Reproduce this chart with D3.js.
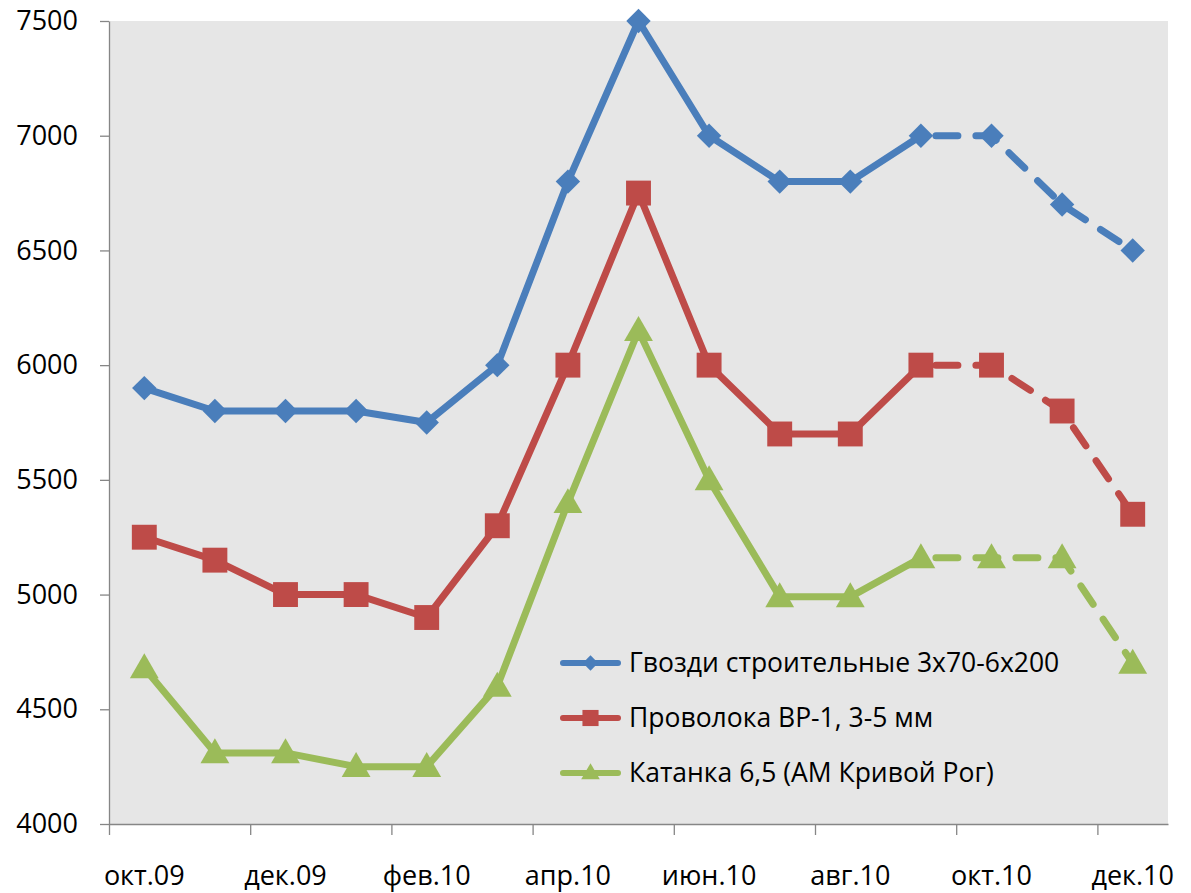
<!DOCTYPE html>
<html>
<head>
<meta charset="utf-8">
<script src="https://cdn.jsdelivr.net/npm/d3@7"></script>
<style>
  body { margin: 0; background: #fff; }
  text { font-family: "Open Sans", sans-serif; fill: #000; }
</style>
</head>
<body>
<div id="chart"></div>
<script>
// months (category axis)
const months = ['окт.09', 'ноя.09', 'дек.09', 'янв.10', 'фев.10', 'мар.10', 'апр.10',
  'май.10', 'июн.10', 'июл.10', 'авг.10', 'сен.10', 'окт.10', 'ноя.10', 'дек.10'];

// series values
const nails = [5900, 5800, 5800, 5800, 5750, 6000, 6800, 7500, 7000, 6800, 6800, 7000, 7000, 6700, 6500];
const wire = [5250, 5150, 5000, 5000, 4900, 5300, 6000, 6750, 6000, 5700, 5700, 6000, 6000, 5800, 5350];
const rod = [4680, 4310, 4310, 4250, 4250, 4600, 5400, 6150, 5500, 4990, 4990, 5160, 5160, 5160, 4700];

const seriesNames = ['Гвозди строительные 3х70-6х200', 'Проволока ВР-1, 3-5 мм', 'Катанка 6,5 (АМ Кривой Рог)'];
const yTicks = [4000, 4500, 5000, 5500, 6000, 6500, 7000, 7500];
const forecastFrom = 11; // dashed from сен.10 on

const width = 1191, height = 893;
const margin = { top: 21, right: 23, bottom: 69, left: 109 };
const plotW = width - margin.left - margin.right;
const plotH = height - margin.top - margin.bottom;

const series = [
  { name: seriesNames[0], values: nails, color: '#4a7ebb', marker: 'diamond' },
  { name: seriesNames[1], values: wire, color: '#be4b48', marker: 'square' },
  { name: seriesNames[2], values: rod, color: '#9bbb59', marker: 'triangle' }
];

const svg = d3.select('#chart')
  .append('svg')
  .attr('width', width)
  .attr('height', height);

const g = svg.append('g')
  .attr('transform', `translate(${margin.left},${margin.top})`);

// scales
const xBand = d3.scaleBand().domain(months).range([0, plotW]).paddingInner(0).paddingOuter(0);
const xIdx = d3.scaleLinear().domain([0, months.length]).range([0, plotW]);
const y = d3.scaleLinear().domain([4000, 7500]).range([plotH, 0]);
const cx = i => xBand(months[i]) + xBand.bandwidth() / 2;

// plot background
g.append('rect')
  .attr('width', plotW)
  .attr('height', plotH)
  .attr('fill', '#e6e6e6');

// y axis
const yAxis = g.append('g')
  .call(d3.axisLeft(y).tickValues(yTicks).tickFormat(d3.format('d')).tickSize(9).tickSizeOuter(0).tickPadding(22));
yAxis.selectAll('line, path').attr('stroke', '#868686').attr('stroke-width', 1.3);
yAxis.selectAll('text').style('font-size', '27px');

// x axis (ticks every 2 months at category boundaries)
const xAxis = g.append('g')
  .attr('transform', `translate(0,${plotH})`)
  .call(d3.axisBottom(xIdx).tickValues(d3.range(0, months.length, 2)).tickSize(11).tickSizeOuter(0).tickFormat(''));
xAxis.selectAll('line, path').attr('stroke', '#868686').attr('stroke-width', 1.3);

g.append('g')
  .selectAll('text')
  .data(months.filter((m, i) => i % 2 === 0))
  .enter()
    .append('text')
    .attr('x', d => xBand(d) + xBand.bandwidth() / 2)
    .attr('y', plotH + 61)
    .attr('text-anchor', 'middle')
    .style('font-size', '27px')
    .text(d => d);

// markers
const symbolFor = {
  diamond: d3.symbol().type(d3.symbolDiamond2).size(380),
  square: d3.symbol().type(d3.symbolSquare).size(620),
  triangle: d3.symbol().type(d3.symbolTriangle).size(360)
};
const legendSymbol = {
  diamond: d3.symbol().type(d3.symbolDiamond2).size(150),
  square: d3.symbol().type(d3.symbolSquare).size(260),
  triangle: d3.symbol().type(d3.symbolTriangle).size(150)
};

const line = d3.line()
  .x(d => cx(d.i))
  .y(d => y(d.v));

series.forEach(s => {
  const pts = s.values.map((v, i) => ({ i, v }));
  const sg = g.append('g').attr('class', 'series');

  sg.append('path')
    .attr('d', line(pts.slice(0, forecastFrom + 1)))
    .attr('fill', 'none')
    .attr('stroke', s.color)
    .attr('stroke-width', 7)
    .attr('stroke-linejoin', 'round');

  sg.append('path')
    .attr('d', line(pts.slice(forecastFrom)))
    .attr('fill', 'none')
    .attr('stroke', s.color)
    .attr('stroke-width', 7)
    .attr('stroke-linecap', 'round')
    .attr('stroke-dasharray', '22,18')
    .attr('stroke-dashoffset', -15);

  sg.selectAll('path.marker')
    .data(pts)
    .enter()
      .append('path')
      .attr('class', 'marker')
      .attr('transform', d => `translate(${cx(d.i)},${y(d.v) + (s.marker === 'triangle' ? 2 : 0)})`)
      .attr('d', symbolFor[s.marker])
      .attr('fill', s.color);
});

// legend
const legend = g.append('g')
  .attr('transform', `translate(${563 - margin.left},${663 - margin.top})`);

const row = legend.selectAll('g')
  .data(series)
  .enter()
    .append('g')
    .attr('transform', (d, i) => `translate(0,${i * 55})`);

row.append('line')
  .attr('x1', 0).attr('x2', 55)
  .attr('stroke', d => d.color)
  .attr('stroke-width', 6)
  .attr('stroke-linecap', 'round');

row.append('path')
  .attr('transform', d => `translate(27.5,${d.marker === 'triangle' ? 1 : 0})`)
  .attr('d', d => legendSymbol[d.marker]())
  .attr('fill', d => d.color);

row.append('text')
  .attr('x', 66)
  .attr('dy', '0.35em')
  .style('font-size', '26.5px')
  .text(d => d.name);
</script>
</body>
</html>
